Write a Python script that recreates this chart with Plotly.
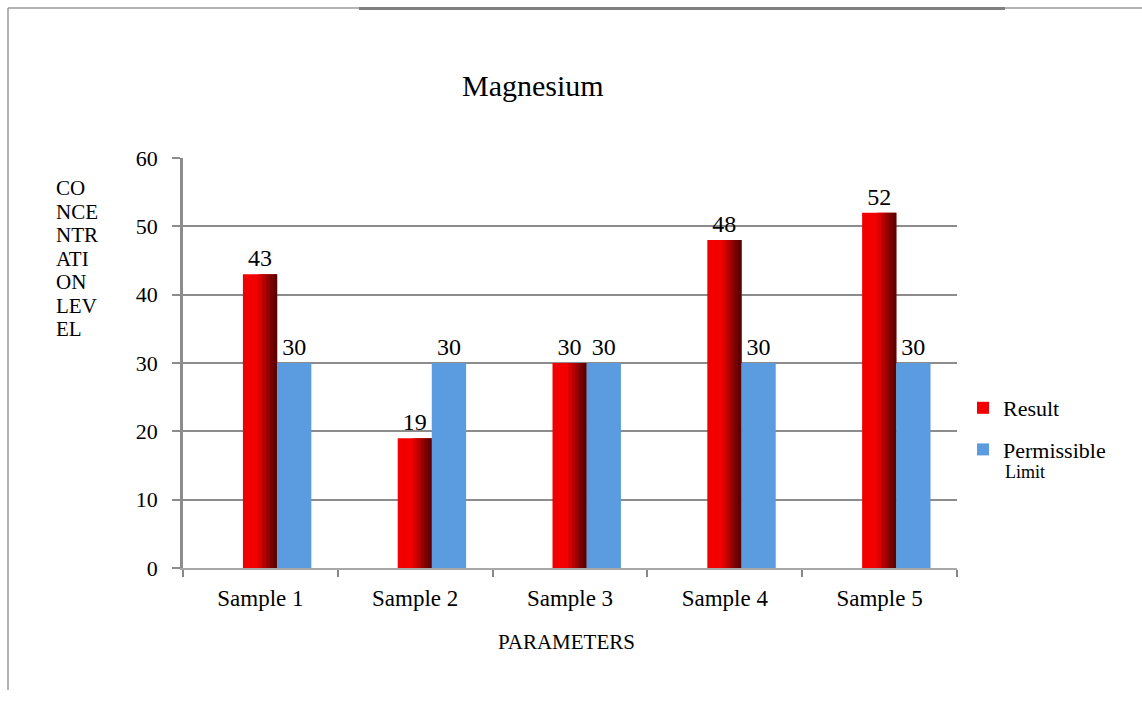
import plotly.graph_objects as go

# Chart data
categories = ["Sample 1", "Sample 2", "Sample 3", "Sample 4", "Sample 5"]
result_values = [43, 19, 30, 48, 52]
limit_values = [30, 30, 30, 30, 30]
y_ticks = [0, 10, 20, 30, 40, 50, 60]
y_title_lines = ["CO", "NCE", "NTR", "ATI", "ON", "LEV", "EL"]

W, H = 1142, 702
L, R, T, B = 183, 957, 158, 568  # plot area in pixels


def px(x):
    return (x - L) / (R - L)


def py(y):
    return (B - y) / (B - T)


SERIF = "Liberation Serif, Times New Roman, serif"

fig = go.Figure()

# Result bars (red) with a darkening right side
red_off, red_w = -0.113, 0.22
fig.add_trace(go.Bar(
    x=categories, y=result_values, name="Result", legendgroup="r",
    offset=red_off, width=red_w,
    marker=dict(color="#f20000", line=dict(width=0)),
    text=[str(v) for v in result_values], textposition="outside",
    textfont=dict(family=SERIF, size=24, color="#000"),
    cliponaxis=False, hoverinfo="x+y",
))
shade_colors = ["#d80000", "#b80000", "#960000", "#780000", "#5c0000"]
strip_start, strip_end = red_off + red_w * 0.45, red_off + red_w
step = (strip_end - strip_start) / len(shade_colors)
for i, c in enumerate(shade_colors):
    fig.add_trace(go.Bar(
        x=categories, y=result_values, showlegend=False, legendgroup="r",
        offset=strip_start + i * step, width=step + 0.002,
        marker=dict(color=c, line=dict(width=0)), hoverinfo="skip",
    ))

# Permissible limit bars (blue)
fig.add_trace(go.Bar(
    x=categories, y=limit_values, legendgroup="p",
    name="Permissible",
    offset=0.107, width=0.222,
    marker=dict(color="#5b9be0", line=dict(width=0)),
    text=[str(v) for v in limit_values], textposition="outside",
    textfont=dict(family=SERIF, size=24, color="#000"),
    cliponaxis=False, hoverinfo="x+y",
))

frame = "#9a9a9a"
shapes = [
    dict(type="line", xref="paper", yref="paper", x0=px(8), x1=px(W), y0=py(8), y1=py(8),
         line=dict(color=frame, width=1.5)),
    dict(type="line", xref="paper", yref="paper", x0=px(359), x1=px(1005), y0=py(8.5), y1=py(8.5),
         line=dict(color="#808080", width=3)),
    dict(type="line", xref="paper", yref="paper", x0=px(8), x1=px(8), y0=py(8), y1=py(690),
         line=dict(color=frame, width=1.5)),
]

annotations = [
    dict(text="Magnesium", xref="paper", yref="paper", x=px(533), y=py(85),
         xanchor="center", yanchor="middle", showarrow=False,
         font=dict(family=SERIF, size=30, color="#000")),
    dict(text="PARAMETERS", xref="paper", yref="paper", x=px(566), y=py(642),
         xanchor="center", yanchor="middle", showarrow=False,
         font=dict(family=SERIF, size=21, color="#000")),
    # second line of the permissible-limit legend label, set tight under the entry
    dict(text="Limit", xref="paper", yref="paper", x=px(1003), y=py(472),
         xanchor="left", yanchor="middle", showarrow=False,
         font=dict(family=SERIF, size=18, color="#000")),
]
# Stacked axis title, one annotation per line
for i, line in enumerate(y_title_lines):
    annotations.append(dict(
        text=line, xref="paper", yref="paper", x=px(54), y=py(188 + i * 23.5),
        xanchor="left", yanchor="middle", showarrow=False,
        font=dict(family=SERIF, size=21, color="#000"),
    ))

fig.update_layout(
    width=W, height=H,
    margin=dict(l=L, r=W - R, t=T, b=H - B, pad=0),
    paper_bgcolor="white", plot_bgcolor="white",
    barmode="overlay",
    showlegend=True,
    legend=dict(x=px(963), y=py(387), xanchor="left", yanchor="top",
                font=dict(family=SERIF, size=22, color="#000"),
                bgcolor="rgba(0,0,0,0)", tracegroupgap=10),
    shapes=shapes,
    annotations=annotations,
    font=dict(family=SERIF, color="#000"),
)

fig.update_xaxes(
    categoryorder="array", categoryarray=categories,
    showline=True, linecolor="#a8a8a8", linewidth=2,
    ticks="outside", tickson="boundaries", ticklen=7, tickcolor="#888", tickwidth=2,
    tickfont=dict(family=SERIF, size=23, color="#000"),
    ticklabelstandoff=8,
    showgrid=False,
)
fig.update_yaxes(
    range=[0, 60], tickvals=y_ticks, ticktext=[str(v) for v in y_ticks],
    showline=True, linecolor="#8c8c8c", linewidth=2.5,
    ticks="outside", ticklen=8, tickcolor="#8c8c8c", tickwidth=2,
    showgrid=True, gridcolor="#8c8c8c", gridwidth=2,
    zeroline=False,
    tickfont=dict(family=SERIF, size=22, color="#000"),
    ticklabelstandoff=10,
)

fig.write_html("out.html")
